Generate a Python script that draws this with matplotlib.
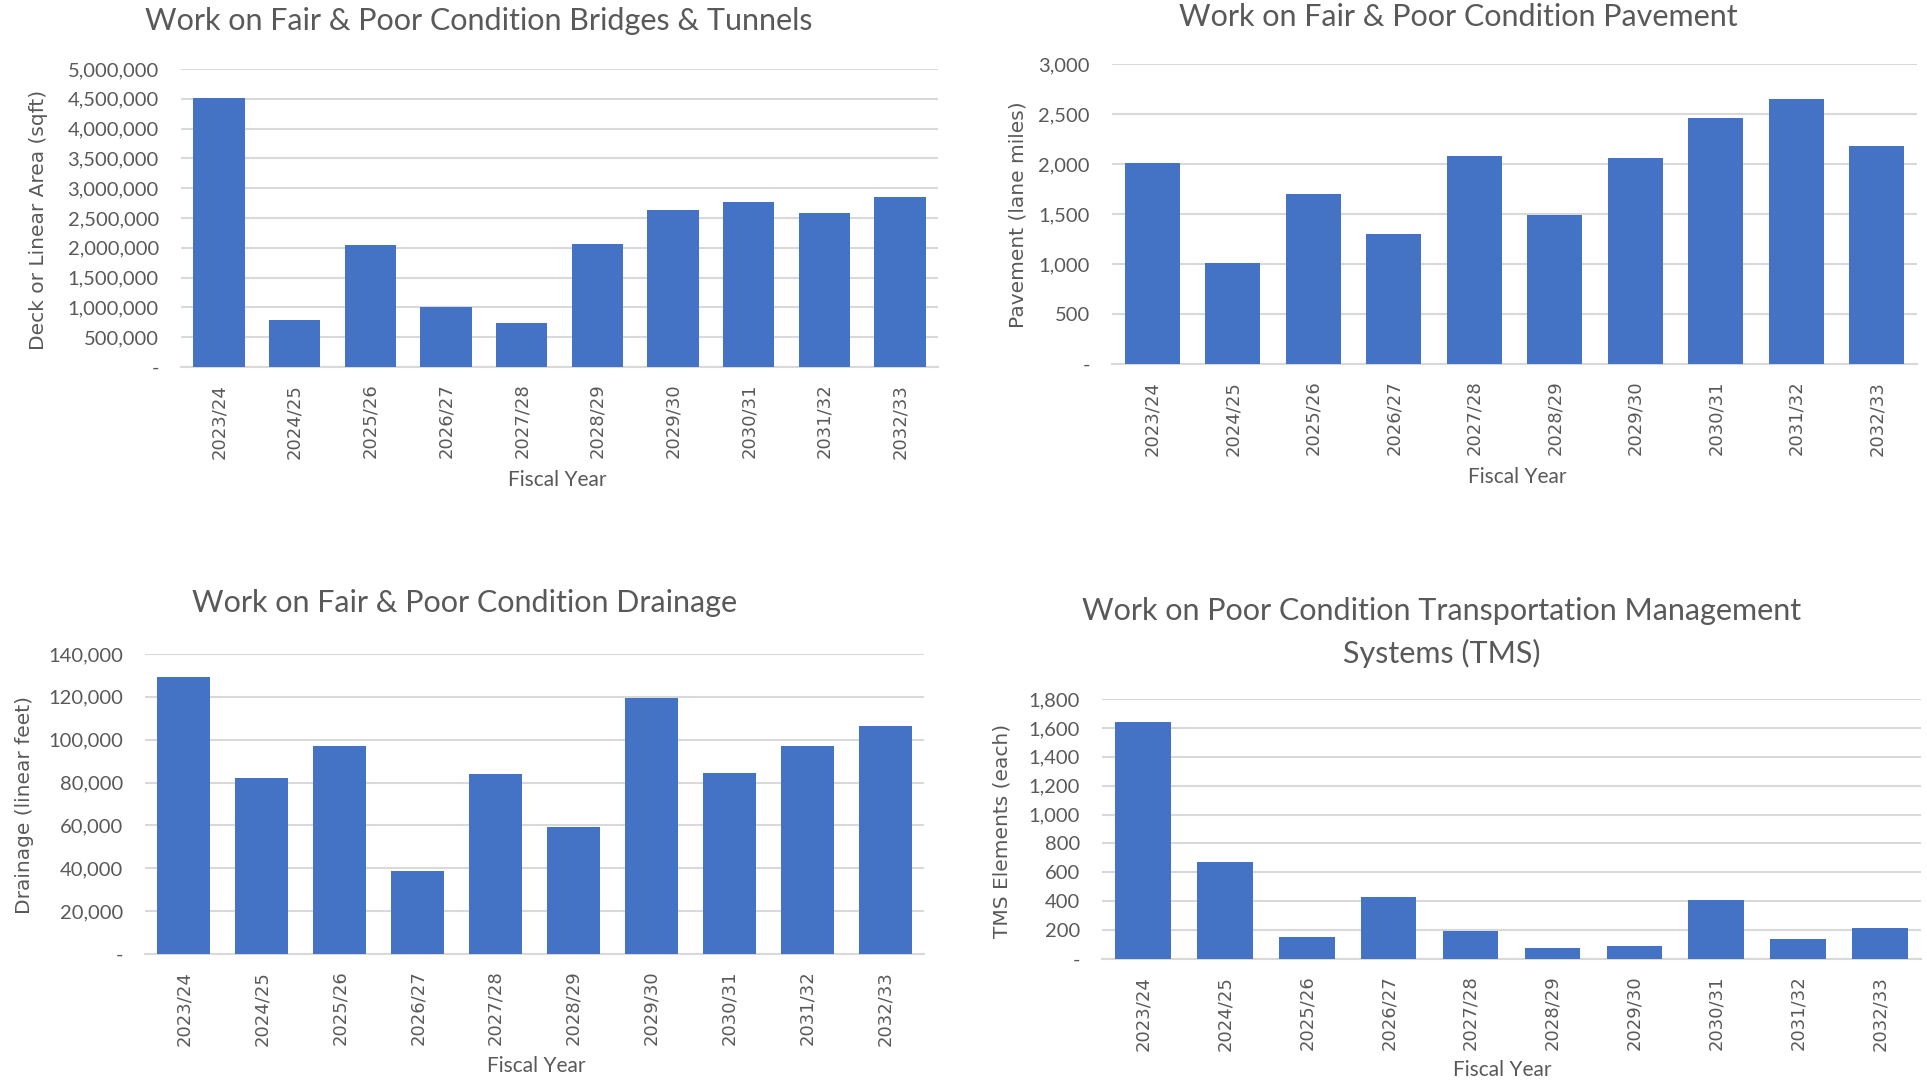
import matplotlib.pyplot as plt
from matplotlib.ticker import FuncFormatter

years = ["2023/24", "2024/25", "2025/26", "2026/27", "2027/28",
         "2028/29", "2029/30", "2030/31", "2031/32", "2032/33"]

bridges = [4520000, 793000, 2040000, 1000000, 737000,
           2067000, 2642000, 2765000, 2581000, 2855000]
pavement = [2012, 1015, 1703, 1304, 2083, 1487, 2063, 2462, 2645, 2176]
drainage = [129500, 82100, 97300, 38800, 83800, 59400, 119500, 84600, 97300, 106500]
tms = [1641, 669, 154, 429, 191, 77, 89, 406, 140, 217]

BAR = "#4472C4"
GRID = "#D9D9D9"
TXT = "#595959"
NARROW = ["Lato", "DejaVu Sans"]
WIDE = ["DejaVu Sans"]

W, H = 1927, 1085
fig = plt.figure(figsize=(W / 100, H / 100), dpi=100)
fig.patch.set_facecolor("white")


def fmt(v, pos):
    if v == 0:
        return "-"
    return f"{int(v):,}"


def panel(box, values, ymax, step, title_lines, ylabel, ylab_pos, xlab_pos):
    left, right, top, bottom = box
    ax = fig.add_axes([left / W, 1 - bottom / H, (right - left) / W, (bottom - top) / H])
    ax.bar(range(len(years)), values, width=0.68, color=BAR, zorder=3)
    ax.set_xlim(-0.5, len(years) - 0.5)
    ax.set_ylim(0, ymax)
    ax.set_yticks(range(0, ymax + 1, step))
    ax.yaxis.set_major_formatter(FuncFormatter(fmt))
    ax.set_xticks(range(len(years)))
    ax.set_xticklabels(years, rotation=90, family=WIDE, fontsize=13, color=TXT)
    for lbl in ax.get_yticklabels():
        lbl.set_family(NARROW)
        lbl.set_fontsize(14.5)
        lbl.set_color(TXT)
    ax.grid(axis="y", color=GRID, linewidth=1.5, zorder=0)
    for s in ["top", "right", "left"]:
        ax.spines[s].set_visible(False)
    ax.spines["bottom"].set_color(GRID)
    ax.spines["bottom"].set_linewidth(1.5)
    ax.tick_params(length=0, pad=12)
    ax.tick_params(axis="y", pad=16)
    for (tx, ty, t) in title_lines:
        fig.text(tx / W, 1 - ty / H, t, ha="center", va="center",
                 family=NARROW, fontsize=22, color=TXT)
    fig.text(ylab_pos[0] / W, 1 - ylab_pos[1] / H, ylabel, rotation=90,
             ha="center", va="center", family=WIDE, fontsize=14.5, color=TXT)
    fig.text(xlab_pos[0] / W, 1 - xlab_pos[1] / H, "Fiscal Year",
             ha="center", va="center", family=NARROW, fontsize=15, color=TXT)
    return ax


panel((181, 938, 69, 367), bridges, 5000000, 500000,
      [(479, 21, "Work on Fair & Poor Condition Bridges & Tunnels")],
      "Deck or Linear Area (sqft)", (39, 220), (557, 480))

panel((1112, 1917, 64, 364), pavement, 3000, 500,
      [(1458, 17, "Work on Fair & Poor Condition Pavement")],
      "Pavement (lane miles)", (1018, 215), (1517, 477))

panel((145, 924, 654, 954), drainage, 140000, 20000,
      [(465, 603, "Work on Fair & Poor Condition Drainage")],
      "Drainage (linear feet)", (25, 805), (536, 1066))

panel((1102, 1921, 699, 959), tms, 1800, 200,
      [(1442, 611, "Work on Poor Condition Transportation Management"),
       (1442, 653, "Systems (TMS)")],
      "TMS Elements (each)", (1002, 831), (1502, 1070))

fig.savefig("out.png", dpi=100, facecolor="white")
